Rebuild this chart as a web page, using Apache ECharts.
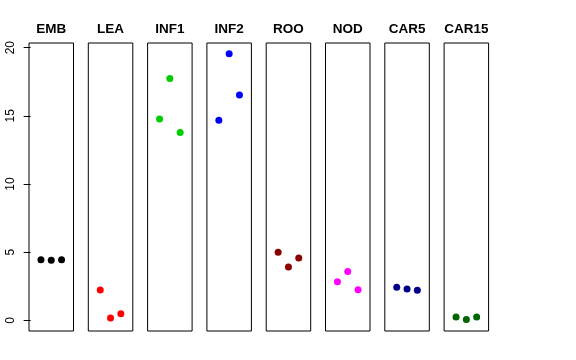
<!DOCTYPE html>
<html>
<head>
<meta charset="utf-8">
<script src="https://cdn.jsdelivr.net/npm/echarts@6/dist/echarts.min.js"></script>
<style>html,body{margin:0;padding:0;background:#fff}#c{width:576px;height:360px}</style>
</head>
<body>
<div id="c"></div>
<script>
var categories = ["EMB","LEA","INF1","INF2","ROO","NOD","CAR5","CAR15"];
var xIndex = [1, 2, 3];
var EMB = [4.45, 4.40, 4.45];
var LEA = [2.22, 0.17, 0.49];
var INF1 = [14.77, 17.73, 13.77];
var INF2 = [14.67, 19.56, 16.53];
var ROO = [4.99, 3.91, 4.57];
var NOD = [2.83, 3.59, 2.25];
var CAR5 = [2.42, 2.30, 2.20];
var CAR15 = [0.24, 0.07, 0.24];
var seriesValues = [EMB, LEA, INF1, INF2, ROO, NOD, CAR5, CAR15];
var colors = ["#000000","#FF0000","#00CD00","#0000FF","#8B0000","#FF00FF","#00008B","#006400"];
var yTicks = [0, 5, 10, 15, 20];

(function () {
var chart = echarts.init(document.getElementById('c'), null, {renderer: 'canvas'});
var grids = [], xAxes = [], yAxes = [], series = [], graphics = [];
var left0 = 29, step = 59.3, w = 44.5, gTop = 43, gH = 288;
categories.forEach(function (cat, i) {
  var L = left0 + step * i;
  grids.push({left: L, top: gTop, width: w, height: gH, show: true, borderColor: '#000', borderWidth: 1, backgroundColor: 'transparent'});
  xAxes.push({type: 'value', gridIndex: i, min: -0.16, max: 4.16, show: false});
  var ya = {type: 'value', gridIndex: i, min: -0.78, max: 20.34, splitLine: {show: false}, axisLine: {show: false}};
  if (i === 0) {
    ya.axisTick = {show: true, length: 7, inside: false, lineStyle: {color: '#000'}, customValues: yTicks};
    ya.axisLabel = {show: true, rotate: 90, margin: 12, color: '#000', fontSize: 12, fontFamily: 'Liberation Sans, Arial, sans-serif', customValues: yTicks};
  } else {
    ya.axisTick = {show: false};
    ya.axisLabel = {show: false};
  }
  yAxes.push(ya);
  series.push({
    type: 'scatter', xAxisIndex: i, yAxisIndex: i,
    data: seriesValues[i].map(function (v, j) { return [xIndex[j], v]; }),
    symbol: 'circle', symbolSize: 7,
    itemStyle: {color: colors[i], opacity: 1},
    silent: true, animation: false
  });
  graphics.push({
    type: 'text', x: L + w / 2, y: 29,
    style: {text: cat, textAlign: 'center', textVerticalAlign: 'middle', fill: '#000',
            font: 'bold 13.5px "Liberation Sans", Arial, sans-serif'}
  });
});
chart.setOption({
  animation: false,
  grid: grids, xAxis: xAxes, yAxis: yAxes, series: series, graphic: graphics
});
})();
</script>
</body>
</html>
